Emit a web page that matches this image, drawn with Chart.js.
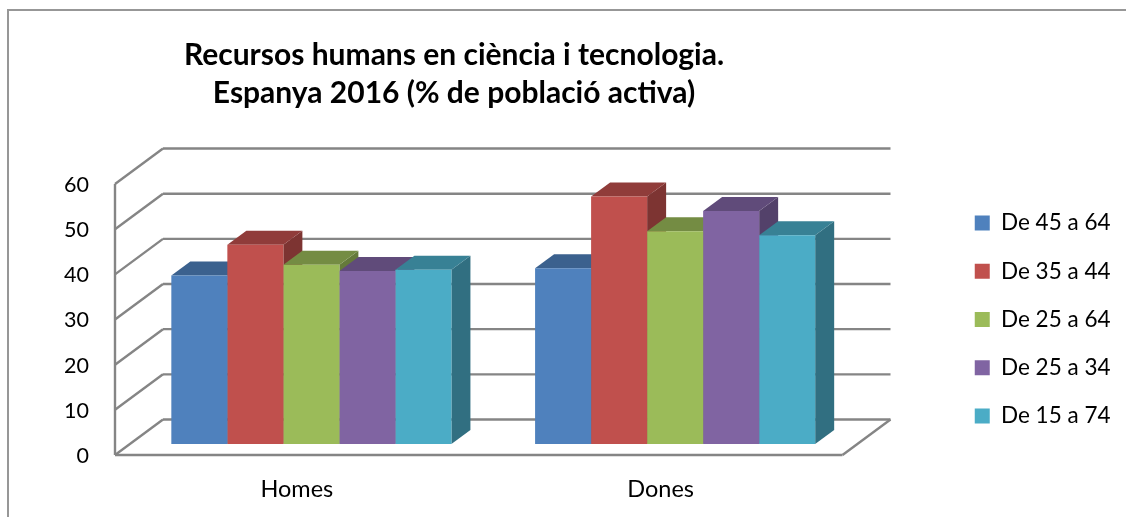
<!DOCTYPE html>
<html>
<head>
<meta charset="utf-8">
<script src="https://cdn.jsdelivr.net/npm/chart.js@4"></script>
<style>
  html, body { margin: 0; padding: 0; background: #fff; }
  canvas { display: block; }
</style>
</head>
<body>
<canvas id="chart" width="1126" height="517"></canvas>
<script>
const categories = ["Homes", "Dones"];
const seriesNames = ["De 45 a 64", "De 35 a 44", "De 25 a 64", "De 25 a 34", "De 15 a 74"];
const de45a64 = [37.3, 38.9];
const de35a44 = [44.1, 54.8];
const de25a64 = [39.7, 47.1];
const de25a34 = [38.3, 51.6];
const de15a74 = [38.6, 46.2];
const seriesValues = [de45a64, de35a44, de25a64, de25a34, de15a74];

const frontColors = ["#4f81bd", "#c0504d", "#9bbb59", "#8064a2", "#4bacc6"];
const topColors = ["#3b618e", "#903c3a", "#748c43", "#604b7a", "#388195"];
const sideColors = ["#2f4d71", "#7d3432", "#657a3a", "#53416a", "#316f81"];

const gridColor = "#858585";
const fontFamily = "Lato, Carlito, sans-serif";

// wall depth of the 3D box, and how far the bars sit inside it
const wallDx = 48, wallDy = -35.5;
const barShiftX = 14.5, barShiftY = -11;
const barDepthX = 19, barDepthY = -14;

function line(ctx, x1, y1, x2, y2) {
  ctx.beginPath();
  ctx.moveTo(x1, y1);
  ctx.lineTo(x2, y2);
  ctx.stroke();
}

function poly(ctx, pts, color) {
  ctx.fillStyle = color;
  ctx.beginPath();
  pts.forEach((p, i) => i ? ctx.lineTo(p[0], p[1]) : ctx.moveTo(p[0], p[1]));
  ctx.closePath();
  ctx.fill();
}

const box3d = {
  id: "box3d",
  afterLayout(chart) {
    // chart area is fixed, title and legend are moved where the original has them
    chart.titleBlock.left = 0;
    chart.titleBlock.right = 908;
    const w = chart.legend.width;
    chart.legend.left = 949;
    chart.legend.right = 949 + w;
    chart.legend.top += 61;
    chart.legend.bottom += 61;
  },
  beforeDraw(chart) {
    const ctx = chart.ctx;
    ctx.save();
    ctx.strokeStyle = "#979797";
    ctx.lineWidth = 2;
    ctx.beginPath();
    ctx.moveTo(8, 517);
    ctx.lineTo(8, 10);
    ctx.lineTo(1126, 10);
    ctx.stroke();
    ctx.restore();
  },
  beforeDatasetsDraw(chart) {
    const ctx = chart.ctx;
    const y = chart.scales.y;
    const area = chart.chartArea;

    ctx.save();
    ctx.strokeStyle = gridColor;
    ctx.lineWidth = 2.4;
    y.ticks.forEach(t => {
      const py = y.getPixelForValue(t.value);
      line(ctx, area.left, py, area.left + wallDx, py + wallDy);
      line(ctx, area.left + wallDx, py + wallDy, area.right + wallDx, py + wallDy);
    });
    line(ctx, area.left, area.top, area.left, area.bottom);
    line(ctx, area.left, area.bottom, area.right, area.bottom);
    line(ctx, area.right, area.bottom, area.right + wallDx, area.bottom + wallDy);
    ctx.restore();

    ctx.save();
    ctx.translate(barShiftX, barShiftY);
    // depth faces left to right, the front faces then go over them
    seriesValues.forEach((vals, i) => {
      chart.getDatasetMeta(i).data.forEach(bar => {
        const l = bar.x - bar.width / 2, r = bar.x + bar.width / 2;
        poly(ctx, [[r, bar.base], [r + barDepthX, bar.base + barDepthY], [r + barDepthX, bar.y + barDepthY], [r, bar.y]], sideColors[i]);
        poly(ctx, [[l, bar.y], [l + barDepthX, bar.y + barDepthY], [r + barDepthX, bar.y + barDepthY], [r, bar.y]], topColors[i]);
      });
    });
  },
  afterDatasetsDraw(chart) {
    chart.ctx.restore();
  }
};

new Chart(document.getElementById("chart"), {
  type: "bar",
  data: {
    labels: categories,
    datasets: seriesNames.map((name, i) => ({
      label: name,
      data: seriesValues[i],
      backgroundColor: frontColors[i],
      borderWidth: 0,
      categoryPercentage: 0.77,
      barPercentage: 1
    }))
  },
  options: {
    responsive: false,
    animation: false,
    events: [],
    layout: { padding: { left: 0, right: 112, top: 0, bottom: 0 } },
    scales: {
      x: {
        grid: { display: false },
        border: { display: false },
        ticks: { color: "#000", padding: 12, font: { family: fontFamily, size: 23.5 } },
        afterFit(s) { s.height = 62; }
      },
      y: {
        min: 0,
        max: 60,
        grid: { display: false },
        border: { display: false },
        ticks: { stepSize: 10, color: "#000", padding: 18, labelOffset: 1, font: { family: fontFamily, size: 21.5 } },
        afterFit(s) { s.width = 115; }
      }
    },
    plugins: {
      tooltip: { enabled: false },
      title: {
        display: true,
        text: ["Recursos humans en ciència i tecnologia.", "Espanya 2016 (% de població activa)"],
        color: "#000",
        padding: { top: 36, bottom: 72 },
        font: { family: fontFamily, size: 30, weight: "bold", lineHeight: 1.267 }
      },
      legend: {
        position: "right",
        labels: {
          boxWidth: 15,
          boxHeight: 15,
          padding: 25.75,
          color: "#000",
          font: { family: fontFamily, size: 22.5 }
        }
      }
    }
  },
  plugins: [box3d]
});
</script>
</body>
</html>
